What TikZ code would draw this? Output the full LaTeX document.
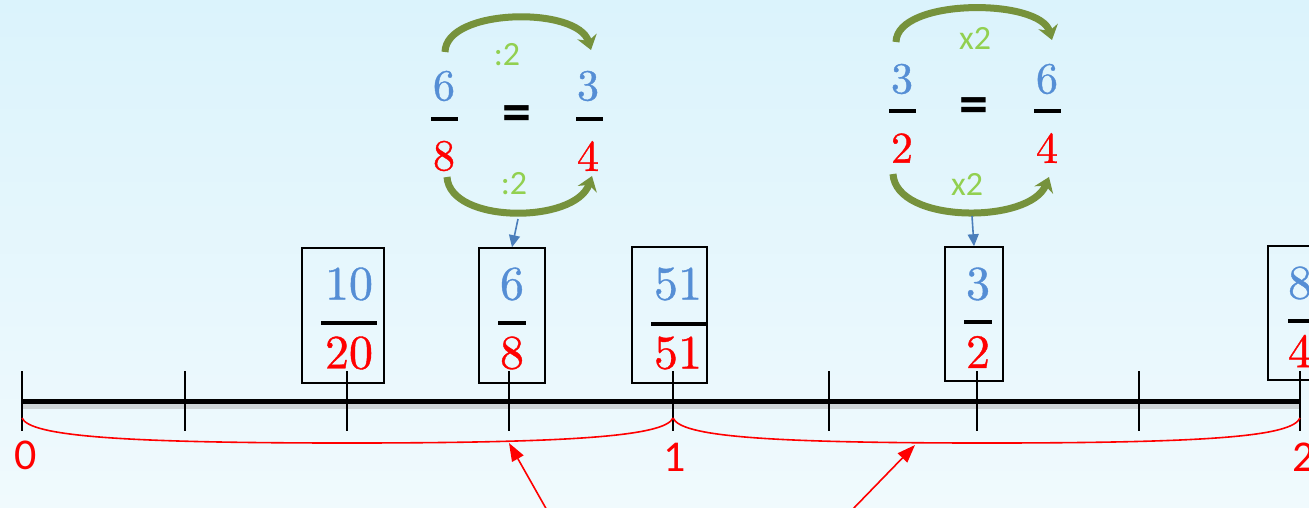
\documentclass[tikz,border=0pt]{standalone}
\usepackage{fontspec}
\newfontfamily\carl{Carlito}
\newfontfamily\digitfont{lmroman10-regular}[Extension=.otf,FakeBold=0.8]
\usetikzlibrary{arrows.meta}
\definecolor{bgtop}{RGB}{219,243,252}
\definecolor{bgbot}{RGB}{240,250,253}
\definecolor{numblue}{RGB}{85,142,213}
\definecolor{olive}{RGB}{118,146,60}
\definecolor{lgreen}{RGB}{146,208,80}
\definecolor{arrblue}{RGB}{74,126,187}
\tikzset{
  num/.style={inner sep=0pt, text=numblue, font=\digitfont\fontsize{48}{60}\selectfont},
  den/.style={inner sep=0pt, text=red, font=\digitfont\fontsize{48}{60}\selectfont},
  tnum/.style={inner sep=0pt, text=numblue, font=\digitfont\fontsize{44}{55}\selectfont},
  tden/.style={inner sep=0pt, text=red, font=\digitfont\fontsize{44}{55}\selectfont},
  fracbox/.style={draw=black, line width=1.6pt, inner sep=0pt},
  fbar/.style={line width=4pt, black},
  tick/.style={line width=1.8pt, black},
  eqsign/.style={inner sep=0pt, font=\carl\bfseries\fontsize{58}{60}\selectfont},
  oplabel/.style={inner sep=0pt, text=lgreen, font=\carl\fontsize{34}{40}\selectfont},
  axlabel/.style={inner sep=0pt, text=red, font=\carl\fontsize{44}{50}\selectfont},
  greenarc/.style={olive, line width=7pt, -{Stealth[length=14pt,width=20pt]}},
  bluearrow/.style={arrblue, line width=1.6pt, -{Triangle[length=12pt,width=11pt]}},
  redarrow/.style={red, line width=1.6pt, -{Triangle[length=18pt,width=13pt]}},
  brace/.style={red, line width=1.6pt},
}
\begin{document}
\begin{tikzpicture}[x=1pt,y=-1pt]
\useasboundingbox (0,0) rectangle (1309,507);
\clip (0,0) rectangle (1309,507);
\shade[top color=bgtop, bottom color=bgbot] (0,0) rectangle (1309,507);

% number line
\draw[line width=7pt, black!30, opacity=0.5] (22,405) -- (1300,405);
\draw[line width=5pt, black] (22,401) -- (1300,401);
\foreach \x in {22,185,347,509,673,829,977,1139,1300}
  \draw[tick] (\x,371) -- (\x,431);

% axis labels
\node[axlabel] (l0) at (26,455) {0};
\node[axlabel] (l1) at (675,457) {1};
\node[axlabel] (l2) at (1304,457) {2};

% braces
\coordinate (br0) at (22,418);
\coordinate (br1) at (673,418);
\coordinate (br2) at (1300,418);
\draw[brace] (br0) .. controls (30,436) and (120,443) .. (347,443)
             .. controls (574,443) and (665,436) .. (br1);
\draw[brace] (br1) .. controls (681,436) and (760,443) .. (987,443)
             .. controls (1214,443) and (1292,436) .. (br2);

% red arrows
\coordinate (ra1s) at (548,512);
\coordinate (ra1t) at (509,443);
\coordinate (ra2s) at (850,512);
\coordinate (ra2t) at (915,445);
\draw[redarrow] (ra1s) -- (ra1t);
\draw[redarrow] (ra2s) -- (ra2t);

% boxes
\node[fracbox, minimum width=82pt, minimum height=135pt] (b1) at (343,315.5) {};
\node[fracbox, minimum width=66pt, minimum height=135pt] (b2) at (512,315.5) {};
\node[fracbox, minimum width=75pt, minimum height=136pt] (b3) at (669.5,315) {};
\node[fracbox, minimum width=58pt, minimum height=134pt] (b4) at (974,314) {};
\node[fracbox, minimum width=64pt, minimum height=134pt] (b5) at (1300,313) {};

\node[num] (n1) at (349,284) {10};
\node[den] (d1) at (349,353) {20};
\draw[fbar] (321,323) -- (377,323);
\node[num] (n2) at (512,284) {6};
\node[den] (d2) at (512,353) {8};
\draw[fbar] (498,323) -- (526,323);
\node[num] (n3) at (678,284) {51};
\node[den] (d3) at (678,353) {51};
\draw[fbar] (651,324) -- (707,324);
\node[num] (n4) at (978,284) {3};
\node[den] (d4) at (978,352) {2};
\draw[fbar] (964,322) -- (992,322);
\node[num] (n5) at (1300,283) {8};
\node[den] (d5) at (1300,351) {4};
\draw[fbar] (1288,321) -- (1315,321);

% top fractions, left
\node[tnum] (a6) at (444,86) {6};
\node[tden] (a8) at (444,156) {8};
\draw[fbar] (431,119) -- (458,119);
\node[eqsign] (eqa) at (517,119) {=};
\node[tnum] (a3) at (588,86) {3};
\node[tden] (a4) at (588,156) {4};
\draw[fbar] (576,119) -- (603,119);
\coordinate (ga1s) at (445,52);
\coordinate (ga1e) at (591,50);
\draw[greenarc] (ga1s) .. controls (446,8) and (578,6) .. (ga1e);
\coordinate (ga2s) at (447,177);
\coordinate (ga2e) at (592,176);
\draw[greenarc] (ga2s) .. controls (450,224) and (575,224) .. (ga2e);
\node[oplabel] (opa1) at (507,55) {:2};
\node[oplabel] (opa2) at (514,184) {:2};
\coordinate (bla) at (518,219);
\draw[bluearrow] (bla) -- (b2.north);

% top fractions, right
\node[tnum] (c3) at (902,79) {3};
\node[tden] (c2) at (902,148) {2};
\draw[fbar] (889,111) -- (916,111);
\node[eqsign] (eqb) at (974,111) {=};
\node[tnum] (c6) at (1047,79) {6};
\node[tden] (c4) at (1047,148) {4};
\draw[fbar] (1034,111) -- (1061,111);
\coordinate (gb1s) at (896,42);
\coordinate (gb1e) at (1052,40);
\draw[greenarc] (gb1s) .. controls (897,-2) and (1040,-2) .. (gb1e);
\coordinate (gb2s) at (893,174);
\coordinate (gb2e) at (1049,177);
\draw[greenarc] (gb2s) .. controls (896,224) and (1030,224) .. (gb2e);
\node[oplabel] (opb1) at (975,38) {x2};
\node[oplabel] (opb2) at (967,184) {x2};
\coordinate (blb) at (972,216);
\draw[bluearrow] (blb) -- (b4.north);
\end{tikzpicture}
\end{document}
